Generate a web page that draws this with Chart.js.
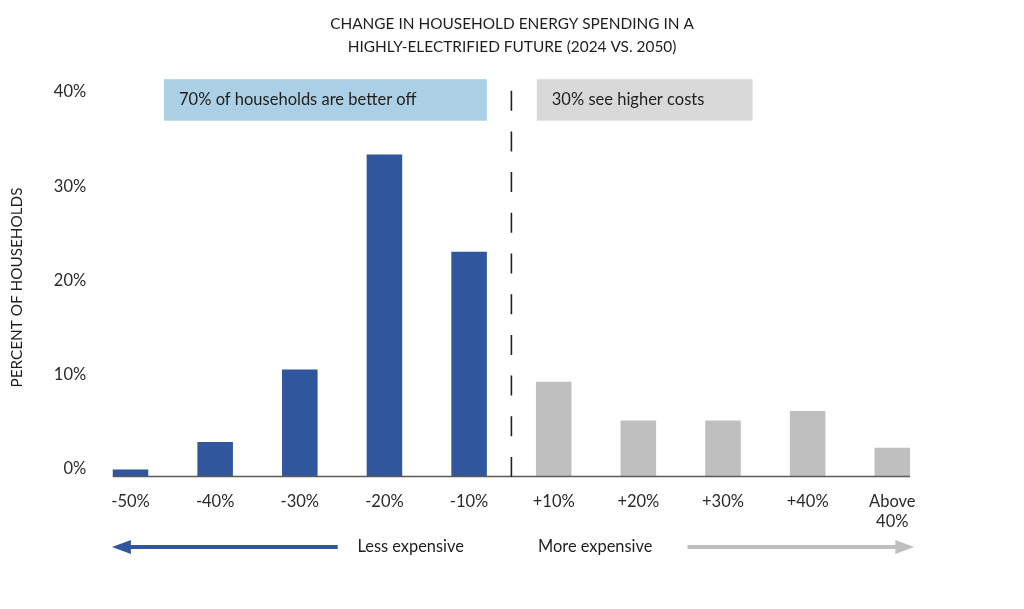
<!DOCTYPE html>
<html>
<head>
<meta charset="utf-8">
<script src="https://cdn.jsdelivr.net/npm/chart.js@4.4.1/dist/chart.umd.min.js"></script>
<style>
  html, body { margin: 0; padding: 0; background: #fff; }
  #wrap { width: 1024px; height: 609px; }
</style>
</head>
<body>
<div id="wrap"><canvas id="myChart"></canvas></div>
<script>
'use strict';

// values
const categories = ['-50%', '-40%', '-30%', '-20%', '-10%', '+10%', '+20%', '+30%', '+40%', ['Above', '40%']];
const shareOfHouseholds = [0.7, 3.6, 11.3, 34.1, 23.8, 10.0, 5.9, 5.9, 6.9, 3.0];
const yTicks = [0, 10, 20, 30, 40];

const titleLines = ['CHANGE IN HOUSEHOLD ENERGY SPENDING IN A', 'HIGHLY-ELECTRIFIED FUTURE (2024 VS. 2050)'];
const yTitle = 'PERCENT OF HOUSEHOLDS';
const betterOffLabel = '70% of households are better off';
const higherCostLabel = '30% see higher costs';
const lessLabel = 'Less expensive';
const moreLabel = 'More expensive';

// first 5 buckets are cheaper than today
const cheaperCount = 5;

const BLUE = '#30579e';
const GREY = '#bfbfbf';
const INK = '#1e1e1e';
const FONT = 'Lato, "Open Sans", sans-serif';

const barColors = [];
for (let i = 0; i < categories.length; i++) {
  barColors.push(i < cheaperCount ? BLUE : GREY);
}

function drawArrow(ctx, fromX, toX, y, color) {
  const dir = toX > fromX ? 1 : -1;
  const headLen = 19;
  const headHalf = 7;
  ctx.strokeStyle = color;
  ctx.fillStyle = color;
  ctx.lineWidth = 4;
  ctx.beginPath();
  ctx.moveTo(fromX, y);
  ctx.lineTo(toX - dir * (headLen - 2), y);
  ctx.stroke();
  ctx.beginPath();
  ctx.moveTo(toX, y);
  ctx.lineTo(toX - dir * headLen, y - headHalf);
  ctx.lineTo(toX - dir * headLen, y + headHalf);
  ctx.closePath();
  ctx.fill();
}

const extras = {
  id: 'extras',
  afterDraw(chart) {
    const ctx = chart.ctx;
    const xs = chart.scales.x;
    const ys = chart.scales.y;
    const bars = chart.getDatasetMeta(0).data;
    const first = bars[0];
    const last = bars[bars.length - 1];
    const base = ys.getPixelForValue(0);

    ctx.save();

    // title, centred on the page
    ctx.font = '15.4px ' + FONT;
    ctx.fillStyle = INK;
    ctx.textAlign = 'center';
    ctx.textBaseline = 'middle';
    ctx.fillText(titleLines[0], chart.width / 2, 24);
    ctx.fillText(titleLines[1], chart.width / 2, 47);

    // baseline under the bars
    ctx.strokeStyle = '#5a5a5a';
    ctx.lineWidth = 1.5;
    ctx.beginPath();
    ctx.moveTo(first.x - first.width / 2, base + 0.5);
    ctx.lineTo(last.x + last.width / 2, base + 0.5);
    ctx.stroke();

    // dashed divider between cheaper and costlier
    const midX = xs.getPixelForValue(cheaperCount - 0.5);
    ctx.strokeStyle = '#222';
    ctx.lineWidth = 1.6;
    ctx.setLineDash([20, 20.7]);
    ctx.beginPath();
    ctx.moveTo(midX, base + 1);
    ctx.lineTo(midX, ys.getPixelForValue(41));
    ctx.stroke();
    ctx.setLineDash([]);

    // label boxes
    const boxTop = ys.getPixelForValue(42.1);
    const boxBottom = ys.getPixelForValue(37.7);
    const boxH = boxBottom - boxTop;
    const blueL = xs.getPixelForValue(0.396);
    const blueR = xs.getPixelForValue(4.21);
    const greyL = xs.getPixelForValue(4.8);
    const greyR = xs.getPixelForValue(7.35);

    ctx.fillStyle = '#abcfe4';
    ctx.fillRect(blueL, boxTop, blueR - blueL, boxH);
    ctx.fillStyle = '#d9d9d9';
    ctx.fillRect(greyL, boxTop, greyR - greyL, boxH);

    ctx.font = '16.5px ' + FONT;
    ctx.fillStyle = INK;
    ctx.textAlign = 'left';
    ctx.fillText(betterOffLabel, blueL + 15, boxTop + boxH / 2);
    ctx.fillText(higherCostLabel, greyL + 15, boxTop + boxH / 2);

    // direction arrows under the axis
    const rowY = chart.chartArea.bottom + 71;
    drawArrow(ctx, xs.getPixelForValue(2.448), xs.getPixelForValue(-0.22), rowY, BLUE);
    drawArrow(ctx, xs.getPixelForValue(6.58), xs.getPixelForValue(9.26), rowY, GREY);

    ctx.font = '16.4px ' + FONT;
    ctx.fillStyle = INK;
    ctx.textAlign = 'center';
    ctx.fillText(lessLabel, xs.getPixelForValue(3.31), rowY);
    ctx.fillText(moreLabel, xs.getPixelForValue(5.49), rowY);

    ctx.restore();
  }
};

const ctx = document.getElementById('myChart').getContext('2d');
const myChart = new Chart(ctx, {
  type: 'bar',
  data: {
    labels: categories,
    datasets: [{
      label: 'Percent of households',
      data: shareOfHouseholds,
      backgroundColor: barColors,
      borderWidth: 0,
      barPercentage: 0.42,
      categoryPercentage: 1
    }]
  },
  options: {
    responsive: true,
    maintainAspectRatio: false,
    animation: false,
    layout: {
      padding: { left: 0, right: 89.4, top: 99, bottom: 0 }
    },
    plugins: {
      legend: { display: false },
      tooltip: { enabled: false },
      title: { display: false }
    },
    scales: {
      x: {
        grid: { display: false, drawTicks: false },
        border: { display: false },
        ticks: {
          color: '#2a2a2a',
          font: { family: FONT, size: 16.5 },
          padding: 16,
          maxRotation: 0,
          autoSkip: false
        },
        afterFit(scale) {
          scale.height = 133;
        }
      },
      y: {
        min: 0,
        max: 40,
        grid: { display: false, drawTicks: false },
        border: { display: false },
        afterBuildTicks(scale) {
          scale.ticks = yTicks.map(v => ({ value: v }));
        },
        ticks: {
          color: '#2a2a2a',
          font: { family: FONT, size: 16.5 },
          padding: 2,
          labelOffset: -7,
          callback: v => v + '%'
        },
        title: {
          display: true,
          text: yTitle,
          color: INK,
          font: { family: FONT, size: 15.3 },
          padding: { top: 8, bottom: 0 }
        },
        afterFit(scale) {
          scale.width = 88.2;
        }
      }
    }
  },
  plugins: [extras]
});
</script>
</body>
</html>
